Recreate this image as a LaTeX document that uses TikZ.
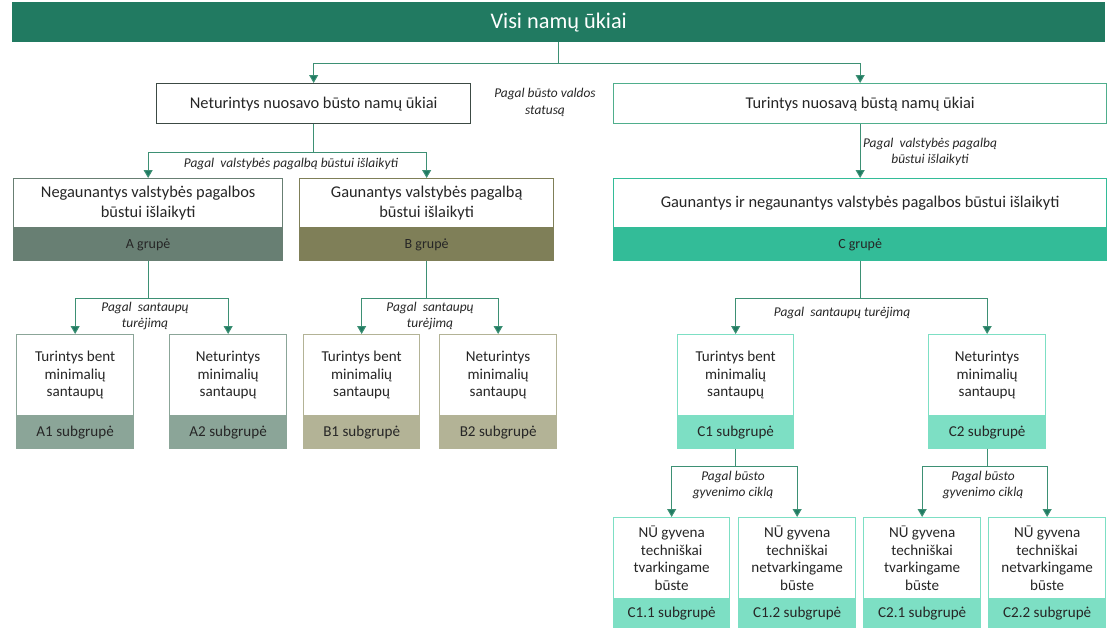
\documentclass[tikz,border=0pt]{standalone}
\usepackage{fontspec}
\setmainfont{Carlito}
\usetikzlibrary{arrows.meta}
\definecolor{bannerc}{HTML}{217A61}
\definecolor{txt}{HTML}{262626}
\definecolor{nbord}{HTML}{3C4A44}
\definecolor{tbord}{HTML}{4FAE8C}
\definecolor{cA}{HTML}{687F73}
\definecolor{cAa}{HTML}{8BA598}
\definecolor{cB}{HTML}{7F7F58}
\definecolor{cBb}{HTML}{B3B396}
\definecolor{cC}{HTML}{33BC98}
\definecolor{cCc}{HTML}{7DDFC4}
\definecolor{linec}{HTML}{3D9074}
\definecolor{tipc}{HTML}{1F7A62}
\tikzset{
  banner/.style={fill=bannerc, text=white, minimum width=1093pt, minimum height=40pt, inner sep=0pt, anchor=north west, font=\fontsize{22.3}{26}\selectfont},
  bigbox/.style={draw=#1, fill=white, line width=1.3pt, text=txt, inner sep=0pt, anchor=north west, align=center, font=\fontsize{16.4}{20}\selectfont},
  band/.style={draw=#1, fill=#1, line width=1.3pt, text=txt, inner sep=0pt, anchor=north west, align=center, font=\fontsize{14}{17}\selectfont},
  smallbox/.style={draw=#1, fill=white, line width=1.3pt, text=txt, inner sep=0pt, anchor=north west, align=center, font=\fontsize{15.1}{17.6}\selectfont, minimum height=81pt},
  subband/.style={draw=#1, fill=#1, line width=1.3pt, text=txt, inner sep=0pt, anchor=north west, align=center, font=\fontsize{15.1}{17}\selectfont},
  lbl/.style={text=txt, align=center, inner sep=0pt, font=\fontsize{13.4}{16}\selectfont\itshape},
  stem/.style={draw=linec, line width=1pt},
  arr/.style={draw=linec, line width=1pt, -{Triangle[length=8pt,width=9pt,fill=tipc]}},
}
\begin{document}
\begin{tikzpicture}[x=1pt,y=-1pt]
\useasboundingbox (0,0) rectangle (1108,627);
% banner
\node[banner] (top) at (12,2) {Visi namų ūkiai};
% level 1
\node[bigbox=nbord, minimum width=314pt, minimum height=40pt] (N) at (156,83) {Neturintys nuosavo būsto namų ūkiai};
\node[bigbox=tbord, minimum width=493pt, minimum height=40pt] (T) at (613,83) {Turintys nuosavą būstą namų ūkiai};
% level 2
\node[bigbox=cA, minimum width=269pt, minimum height=49pt] (A) at (13,178) {Negaunantys valstybės pagalbos\\būstui išlaikyti};
\node[band=cA, minimum width=269pt, minimum height=31pt] (Ag) at (A.south west) {A grupė};
\node[bigbox=cB, minimum width=254pt, minimum height=49pt] (B) at (299,178) {Gaunantys valstybės pagalbą\\būstui išlaikyti};
\node[band=cB, minimum width=254pt, minimum height=31pt] (Bg) at (B.south west) {B grupė};
\node[bigbox=cC, minimum width=493pt, minimum height=49pt] (C) at (613,178) {Gaunantys ir negaunantys valstybės pagalbos būstui išlaikyti};
\node[band=cC, minimum width=493pt, minimum height=31pt] (Cg) at (C.south west) {C grupė};
% level 3
\node[smallbox=cAa, minimum width=117pt] (A1) at (16,334) {Turintys bent\\minimalių\\santaupų};
\node[subband=cAa, minimum width=117pt, minimum height=31pt] (A1g) at (A1.south west) {A1 subgrupė};
\node[smallbox=cAa, minimum width=117pt] (A2) at (169,334) {Neturintys\\minimalių\\santaupų};
\node[subband=cAa, minimum width=117pt, minimum height=31pt] (A2g) at (A2.south west) {A2 subgrupė};
\node[smallbox=cBb, minimum width=116pt] (B1) at (303,334) {Turintys bent\\minimalių\\santaupų};
\node[subband=cBb, minimum width=116pt, minimum height=31pt] (B1g) at (B1.south west) {B1 subgrupė};
\node[smallbox=cBb, minimum width=117pt] (B2) at (439,334) {Neturintys\\minimalių\\santaupų};
\node[subband=cBb, minimum width=117pt, minimum height=31pt] (B2g) at (B2.south west) {B2 subgrupė};
\node[smallbox=cCc, minimum width=116pt] (C1) at (677,334) {Turintys bent\\minimalių\\santaupų};
\node[subband=cCc, minimum width=116pt, minimum height=31pt] (C1g) at (C1.south west) {C1 subgrupė};
\node[smallbox=cCc, minimum width=117pt] (C2) at (928,334) {Neturintys\\minimalių\\santaupų};
\node[subband=cCc, minimum width=117pt, minimum height=31pt] (C2g) at (C2.south west) {C2 subgrupė};
% level 4
\node[smallbox=cCc, minimum width=116pt] (C11) at (613,517) {NŪ gyvena\\techniškai\\tvarkingame\\būste};
\node[subband=cCc, minimum width=116pt, minimum height=28pt] (C11g) at (C11.south west) {C1.1 subgrupė};
\node[smallbox=cCc, minimum width=117pt] (C12) at (738,517) {NŪ gyvena\\techniškai\\netvarkingame\\būste};
\node[subband=cCc, minimum width=117pt, minimum height=28pt] (C12g) at (C12.south west) {C1.2 subgrupė};
\node[smallbox=cCc, minimum width=117pt] (C21) at (863,517) {NŪ gyvena\\techniškai\\tvarkingame\\būste};
\node[subband=cCc, minimum width=117pt, minimum height=28pt] (C21g) at (C21.south west) {C2.1 subgrupė};
\node[smallbox=cCc, minimum width=117pt] (C22) at (988,517) {NŪ gyvena\\techniškai\\netvarkingame\\būste};
\node[subband=cCc, minimum width=117pt, minimum height=28pt] (C22g) at (C22.south west) {C2.2 subgrupė};
% connectors
\draw[stem] (top.south) -- ++(0,21) coordinate (j0);
\draw[arr] (j0) -| (N.north);
\draw[arr] (j0) -| (T.north);
\draw[stem] (N.south) -- ++(0,28) coordinate (j1);
\draw[arr] (j1) -| (A.north);
\draw[arr] (j1) -| (B.north);
\draw[arr] (T.south) -- (C.north);
\draw[stem] (Ag.south) -- ++(0,38) coordinate (ja);
\draw[arr] (ja) -| (A1.north);
\draw[arr] (ja) -| (A2.north);
\draw[stem] (Bg.south) -- ++(0,38) coordinate (jb);
\draw[arr] (jb) -| (B1.north);
\draw[arr] (jb) -| (B2.north);
\draw[stem] (Cg.south) -- ++(0,38) coordinate (jc);
\draw[arr] (jc) -| (C1.north);
\draw[arr] (jc) -| (C2.north);
\draw[stem] (C1g.south) -- ++(0,18) coordinate (jc1);
\draw[arr] (jc1) -| (C11.north);
\draw[arr] (jc1) -| (C12.north);
\draw[stem] (C2g.south) -- ++(0,18) coordinate (jc2);
\draw[arr] (jc2) -| (C21.north);
\draw[arr] (jc2) -| (C22.north);
% labels
\node[lbl, font=\fontsize{13.4}{17}\selectfont\itshape] (L0) at (545,102) {Pagal būsto valdos\\statusą};
\node[lbl] (L1) at (291,163.5) {Pagal\ \ valstybės pagalbą būstui išlaikyti};
\node[lbl] (L2) at (930,152) {Pagal\ \ valstybės pagalbą\\būstui išlaikyti};
\node[lbl] (La) at (145,316) {Pagal\ \ santaupų\\turėjimą};
\node[lbl] (Lb) at (430,316) {Pagal\ \ santaupų\\turėjimą};
\node[lbl] (Lc) at (842,313) {Pagal\ \ santaupų turėjimą};
\node[lbl] (Lc1) at (733,485) {Pagal būsto\\gyvenimo ciklą};
\node[lbl] (Lc2) at (983,485) {Pagal būsto\\gyvenimo ciklą};
\end{tikzpicture}
\end{document}
